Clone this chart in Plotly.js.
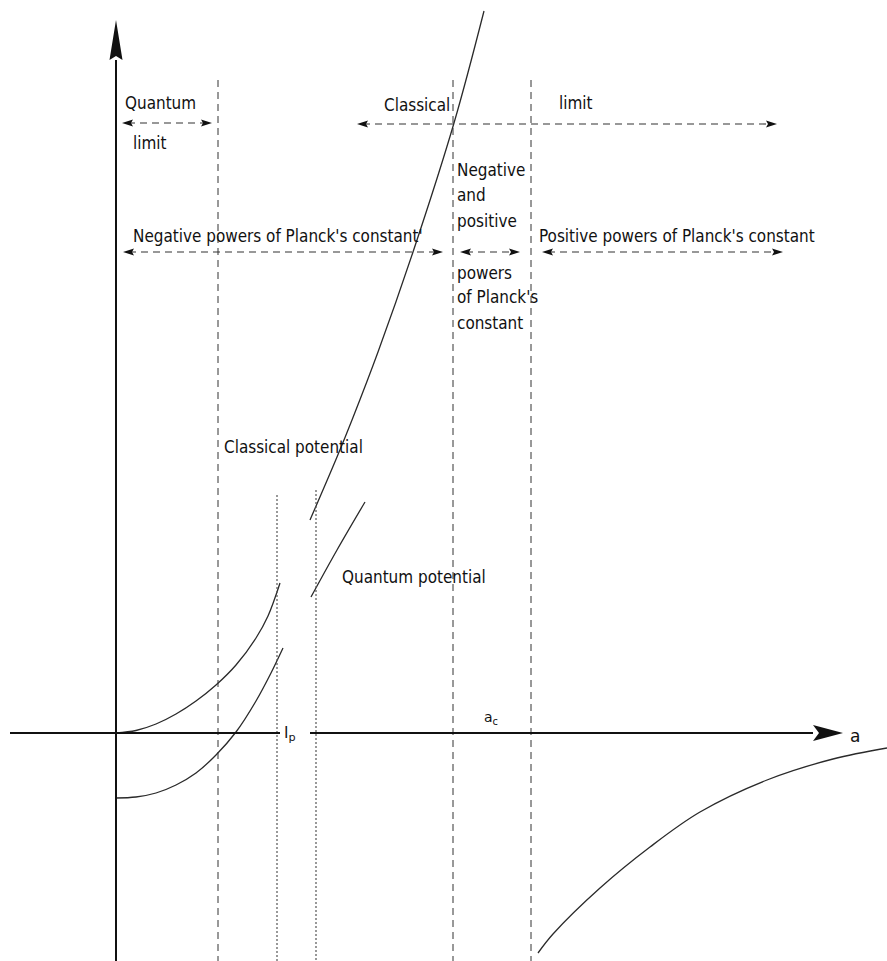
<!DOCTYPE html>
<html><head><meta charset="utf-8">
<script src="https://cdn.plot.ly/plotly-3.0.1.min.js"></script>
<style>html,body{margin:0;padding:0;background:#fff;}#plot{width:887px;height:961px;}</style>
</head><body><div id="plot"></div>
<script>
// Schematic values, in a-axis units (origin at crossing of the axes)
const classicalLeftX = [0, 20, 40, 60, 80, 100, 120, 140, 152, 164];
const classicalLeftY = [0, 2.5, 9, 19, 32, 48, 68, 95, 117, 150];
const quantumLeftX = [0, 20, 40, 60, 80, 100, 120, 140, 155, 167];
const quantumLeftY = [-65, -64, -60, -52, -40, -22, 1, 32, 60, 85];
const classicalRightX = [194, 221, 236, 262, 297, 338, 368];
const classicalRightY = [213, 276, 313, 381, 481, 610, 722];
const quantumRightX = [195, 221, 249];
const quantumRightY = [136, 183, 231];
const tailX = [422, 437, 484, 534, 584, 651, 717, 771];
const tailY = [-220, -201, -155, -114, -79, -47, -26, -15];

const dashedLinesX = [102, 337, 415];
const dashedTop = 653;
const dottedLinesX = [161, 200];
const dottedTop = [238, 243];
const bottomY = -228;

const xAxisSegs = [[-106, 164], [194, 697]];
const xArrowTip = 727;
const yAxisRange = [-228, 673];
const yArrowTip = 713;

// dashed double arrows: [x0, x1, y]
const spans = [
  [6, 96, 610],     // quantum limit
  [241, 661, 609],  // classical limit
  [7, 327, 481],    // negative powers
  [344, 404, 481],  // negative and positive
  [426, 667, 481]   // positive powers
];

const labels = [
  {t: 'Quantum', x: 7, y: 630},
  {t: 'limit', x: 15, y: 590},
  {t: 'Classical', x: 266, y: 628},
  {t: 'limit', x: 441, y: 630},
  {t: "Negative powers of Planck's constant'", x: 15, y: 497},
  {t: "Positive powers of Planck's constant", x: 421, y: 497},
  {t: 'Negative', x: 339, y: 563},
  {t: 'and', x: 339, y: 538},
  {t: 'positive', x: 339, y: 512},
  {t: 'powers', x: 339, y: 460},
  {t: "of Planck's", x: 339, y: 436},
  {t: 'constant', x: 339, y: 410},
  {t: 'Classical potential', x: 106, y: 286},
  {t: 'Quantum potential', x: 224, y: 156}
];
const mathLabels = [
  {t: 'l<sub>p</sub>', x: 174, y: 0, s: 16},
  {t: 'a<sub>c</sub>', x: 375, y: 15, s: 14},
  {t: 'a', x: 739, y: -3, s: 17}
];

// pick a condensed font if installed, otherwise size the regular one to the drawn widths
function hasFont(f) {
  const c = document.createElement('canvas').getContext('2d');
  const s = 'mmmmmwwwwiiiilll Quantum';
  c.font = '20px monospace'; const w0 = c.measureText(s).width;
  c.font = '20px "' + f + '", monospace'; return c.measureText(s).width !== w0;
}
let FAM = 'Liberation Sans';
['Liberation Sans Narrow', 'Arial Narrow', 'DejaVu Sans Condensed'].some(f => { if (hasFont(f)) { FAM = f; return true; } return false; });
const ctx = document.createElement('canvas').getContext('2d');
ctx.font = '20px "' + FAM + '"';
const refW = ctx.measureText("Negative powers of Planck's constant'").width;
const TEXT_SIZE = Math.min(21, 20 * 290 / refW);
const FONT = '"' + FAM + '", Arial, sans-serif';

const curveStyle = {color: '#2a2a2a', width: 1.3, shape: 'spline', smoothing: 1};
const traces = [];
function tr(x, y, line) { traces.push({x: x, y: y, mode: 'lines', line: line, hoverinfo: 'skip', showlegend: false}); }

tr(classicalLeftX, classicalLeftY, curveStyle);
tr(quantumLeftX, quantumLeftY, curveStyle);
tr(classicalRightX, classicalRightY, curveStyle);
tr(quantumRightX, quantumRightY, curveStyle);
tr(tailX, tailY, curveStyle);

dashedLinesX.forEach(x => tr([x, x], [dashedTop, bottomY], {color: '#333', width: 1, dash: '7px,5px'}));
dottedLinesX.forEach((x, i) => tr([x, x], [dottedTop[i], bottomY], {color: '#555', width: 1.2, dash: '2px,2px'}));

// axes
xAxisSegs.forEach(s => tr(s, [0, 0], {color: '#111', width: 2.2}));
tr([0, 0], yAxisRange, {color: '#111', width: 2});

const shapes = [];
function head(tip, y, dir, len, hw, notch) {
  const b = tip - dir * len, n = tip - dir * (len - notch);
  return {type: 'path', path: `M ${b},${y - hw} L ${tip},${y} L ${b},${y + hw} L ${n},${y} Z`, fillcolor: '#111', line: {width: 0}};
}
spans.forEach(s => {
  tr([s[0] + 6, s[1] - 6], [s[2], s[2]], {color: '#333', width: 1.1, dash: '7px,5px'});
  shapes.push(head(s[0], s[2], -1, 11, 3.5, 2));
  shapes.push(head(s[1], s[2], 1, 11, 3.5, 2));
});
shapes.push({type: 'path', path: `M -6.5,${yAxisRange[1]} L 0,${yArrowTip} L 6.5,${yAxisRange[1]} L 0,${yAxisRange[1] + 4} Z`, fillcolor: '#111', line: {width: 0}});
shapes.push(head(xArrowTip, 0, 1, 30, 8, 6));

const annotations = [];
labels.forEach(l => annotations.push({x: l.x, y: l.y, text: l.t, showarrow: false, xanchor: 'left', yanchor: 'middle',
  font: {family: FONT, size: TEXT_SIZE, color: '#111'}}));
mathLabels.forEach(l => annotations.push({x: l.x, y: l.y, text: l.t, showarrow: false, xanchor: 'center', yanchor: 'middle',
  font: {family: '"DejaVu Sans", sans-serif', size: l.s, color: '#111'}}));

const layout = {
  width: 887, height: 961, margin: {l: 0, r: 0, t: 0, b: 0},
  paper_bgcolor: '#fff', plot_bgcolor: '#fff',
  xaxis: {range: [-116, 771], visible: false, fixedrange: true},
  yaxis: {range: [-228, 733], visible: false, fixedrange: true},
  showlegend: false, annotations: annotations, shapes: shapes
};
Plotly.newPlot('plot', traces, layout, {staticPlot: true});
</script></body></html>
